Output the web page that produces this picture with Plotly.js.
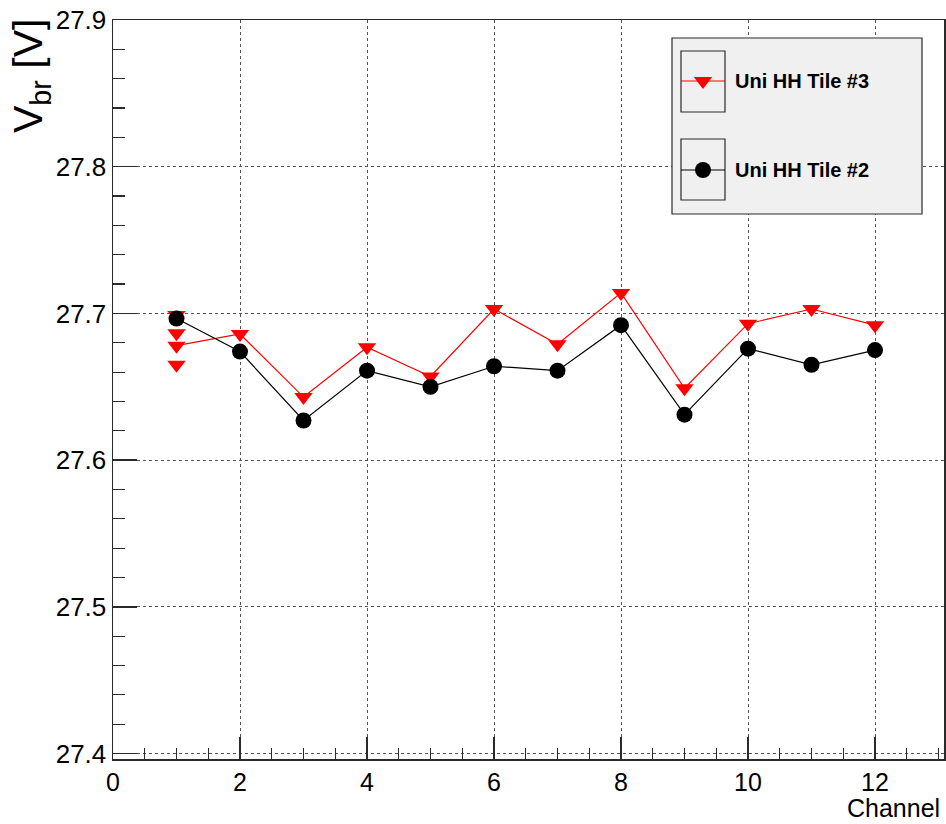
<!DOCTYPE html>
<html>
<head>
<meta charset="utf-8">
<script src="https://cdn.plot.ly/plotly-3.0.1.min.js"></script>
<style>
  html, body { margin: 0; padding: 0; background: #ffffff; }
  #chart { width: 946px; height: 824px; }
</style>
</head>
<body>
<div id="chart"></div>
<script>
// ---- data ----
var channels = [1, 2, 3, 4, 5, 6, 7, 8, 9, 10, 11, 12];
var tile3 = [27.678, 27.686, 27.643, 27.677, 27.657, 27.703, 27.679, 27.714, 27.649, 27.693, 27.703, 27.692];
var tile3ExtraCh = [1, 1, 1];
var tile3Extra = [27.699, 27.6865, 27.665];
var tile2 = [27.6965, 27.674, 27.627, 27.661, 27.650, 27.664, 27.661, 27.692, 27.631, 27.676, 27.665, 27.675];
var name3 = "Uni HH Tile #3";
var name2 = "Uni HH Tile #2";
var xTitle = "Channel";
var yTitle = "V<sub>br</sub> [V]";

// ---- layout geometry (pixels) ----
var W = 946, H = 824;
var L = 113, R = 2, T = 20, B = 65;
var PW = W - L - R, PH = H - T - B;
var XR = [0, PW / 63.5], YR = [27.3963, 27.9];
function px(x) { return (x - L) / PW; }
function py(y) { return (H - B - y) / PH; }
function dx(x) { return XR[0] + (x - L) / PW * (XR[1] - XR[0]); }
function dy(y) { return YR[1] - (y - T) / PH * (YR[1] - YR[0]); }

var FONT = "Liberation Sans, Arial, Helvetica, sans-serif";
var AX = "#2a2a2a";

// legend geometry in pixel space
var legBox = {x0: 672, x1: 922, y0: 38, y1: 214};
var entries = [
  {name: name3, color: "#ff0000", symbol: "triangle-down", size: 16, cy: 81, by0: 51, by1: 112},
  {name: name2, color: "#000000", symbol: "circle", size: 16, cy: 170, by0: 139, by1: 200}
];
var sampX0 = 681, sampX1 = 725;

var traces = [
  {
    x: tile3ExtraCh, y: tile3Extra, type: "scatter", mode: "markers",
    marker: {symbol: "triangle-down", size: 16, color: "#ff0000"},
    showlegend: false, hoverinfo: "skip"
  },
  {
    x: channels, y: tile3, type: "scatter", mode: "lines+markers", name: name3,
    line: {color: "#ff0000", width: 1.2},
    marker: {symbol: "triangle-down", size: 16, color: "#ff0000"},
    showlegend: false
  },
  {
    x: channels, y: tile2, type: "scatter", mode: "lines+markers", name: name2,
    line: {color: "#000000", width: 1.2},
    marker: {symbol: "circle", size: 16, color: "#000000"},
    showlegend: false
  }
];

var shapes = [
  {type: "rect", xref: "x", yref: "y", x0: dx(legBox.x0), x1: dx(legBox.x1), y0: dy(legBox.y0), y1: dy(legBox.y1),
   fillcolor: "#f0f0f0", line: {color: AX, width: 1.2}, layer: "between"}
];
var annotations = [];

entries.forEach(function (e) {
  shapes.push({type: "rect", xref: "x", yref: "y", x0: dx(sampX0), x1: dx(sampX1), y0: dy(e.by0), y1: dy(e.by1),
    fillcolor: "rgba(0,0,0,0)", line: {color: AX, width: 1.2}, layer: "between"});
  traces.push({
    x: [dx(sampX0), dx(sampX1)], y: [dy(e.cy), dy(e.cy)], type: "scatter", mode: "lines",
    line: {color: e.color, width: 1.2}, showlegend: false, hoverinfo: "skip"
  });
  traces.push({
    x: [dx((sampX0 + sampX1) / 2)], y: [dy(e.cy)], type: "scatter", mode: "markers",
    marker: {symbol: e.symbol, size: e.size, color: e.color}, showlegend: false, hoverinfo: "skip"
  });
  annotations.push({
    xref: "paper", yref: "paper", x: px(733), y: py(e.cy), xanchor: "left", yanchor: "middle",
    text: "<b>" + e.name + "</b>", showarrow: false,
    font: {family: FONT, size: 20, color: "#000000"}
  });
});

annotations.push({
  xref: "paper", yref: "paper", x: px(31), y: py(17), xanchor: "center", yanchor: "top",
  text: yTitle, textangle: -90, showarrow: false,
  font: {family: FONT, size: 41, color: "#000000"}
});
annotations.push({
  xref: "paper", yref: "paper", x: px(942), y: py(824), xanchor: "right", yanchor: "bottom",
  text: xTitle, showarrow: false,
  font: {family: FONT, size: 25, color: "#000000"}
});

var layout = {
  width: W, height: H,
  margin: {l: L, r: R, t: T, b: B, pad: 0},
  paper_bgcolor: "#ffffff", plot_bgcolor: "#ffffff",
  font: {family: FONT, color: "#000000"},
  showlegend: false,
  xaxis: {
    range: XR, autorange: false, tick0: 0, dtick: 2,
    ticks: "inside", ticklen: 22, tickwidth: 1.5, tickcolor: AX,
    showline: true, linecolor: AX, linewidth: 1.5, mirror: true,
    showgrid: true, gridcolor: "#555555", griddash: "dot", gridwidth: 1,
    zeroline: false,
    tickfont: {family: FONT, size: 25, color: "#000000"},
    minor: {dtick: 0.5, tick0: 0, ticks: "inside", ticklen: 11, tickwidth: 1.2, tickcolor: AX, showgrid: false}
  },
  yaxis: {
    range: YR, autorange: false, tick0: 27.4, dtick: 0.1, tickformat: ".1f",
    ticks: "inside", ticklen: 24, tickwidth: 1.5, tickcolor: AX,
    showline: true, linecolor: AX, linewidth: 1.5, mirror: true,
    showgrid: true, gridcolor: "#555555", griddash: "dot", gridwidth: 1,
    zeroline: false,
    tickfont: {family: FONT, size: 26, color: "#000000"},
    minor: {dtick: 0.02, tick0: 27.4, ticks: "inside", ticklen: 12, tickwidth: 1.2, tickcolor: AX, showgrid: false}
  },
  shapes: shapes,
  annotations: annotations
};

Plotly.newPlot("chart", traces, layout, {displayModeBar: false, staticPlot: true});
</script>
</body>
</html>
